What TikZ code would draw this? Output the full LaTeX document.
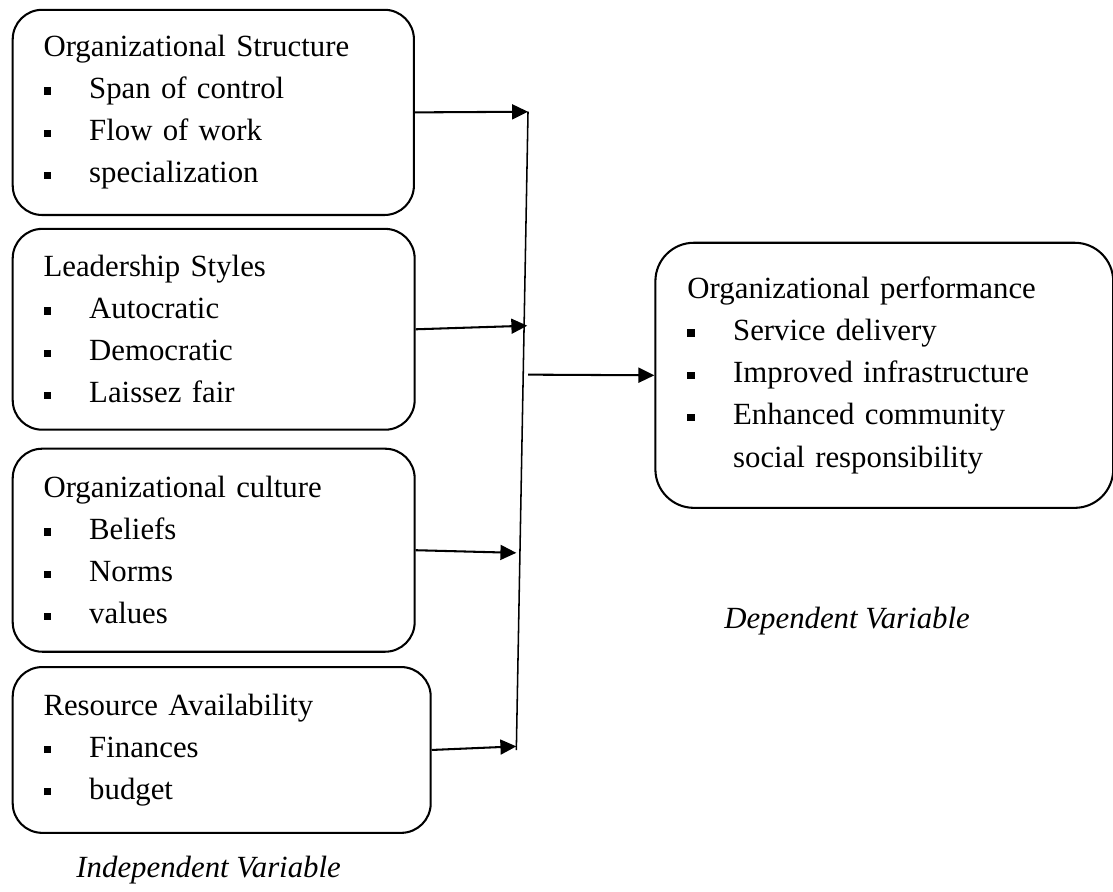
\documentclass[tikz,border=0pt]{standalone}
\usepackage{fontspec}
\setmainfont{Liberation Serif}
\usetikzlibrary{arrows.meta}

\newcommand{\itm}{\makebox[17.8pt][l]{\rule[1.6pt]{2.8pt}{2.8pt}}}

\begin{document}
\begin{tikzpicture}[
    every node/.style={font=\fontsize{12pt}{16.4pt}\selectfont},
    factor/.style={draw, line width=0.8pt, rounded corners=11.5pt, anchor=north west,
        align=left, inner xsep=12pt, text width=#1},
    arr/.style={line width=0.8pt, -{Triangle[length=6.2pt, width=5.8pt]}},
    varlabel/.style={anchor=base west, inner sep=0pt,
        font=\fontsize{12pt}{16.4pt}\selectfont\itshape}]
    \useasboundingbox (0, 0) rectangle (15.24, 12.21);

    \node[factor=4.65cm, minimum height=2.81cm] (struct) at (0.16, 12.09)
        {Organizational Structure\\ \itm Span of control\\ \itm Flow of work\\ \itm specialization};
    \node[factor=4.66cm, minimum height=2.75cm] (lead) at (0.16, 9.09)
        {Leadership Styles\\ \itm Autocratic\\ \itm Democratic\\ \itm Laissez fair};
    \node[factor=4.66cm, minimum height=2.78cm] (culture) at (0.16, 6.08)
        {Organizational culture\\ \itm Beliefs\\ \itm Norms\\ \itm values};
    \node[factor=4.88cm, minimum height=2.27cm] (resource) at (0.16, 3.09)
        {Resource Availability\\ \itm Finances\\ \itm budget};
    \node[factor=5.39cm, inner xsep=12.5pt, rounded corners=15pt, minimum height=3.63cm] (perf) at (8.96, 8.90)
        {Organizational performance\\ \itm Service delivery\\ \itm Improved infrastructure\\
         \itm Enhanced community\\ \hspace*{17.8pt}social responsibility};

    \coordinate (j1) at (7.23, 10.68);
    \coordinate (j2) at (7.22, 7.75);
    \coordinate (j3) at (7.07, 4.64);
    \coordinate (j4) at (7.07, 1.99);
    \coordinate (jb) at (7.07, 1.94);
    \coordinate (jm) at (7.23, 7.08);

    \draw[line width=0.6pt] (j1) -- (jb);
    \draw[arr] (struct.east) -- (j1);
    \draw[arr] (lead.east) -- (j2);
    \draw[arr] (culture.east) -- (j3);
    \draw[arr] (resource.east) -- (j4);
    \draw[arr] (jm) -- (perf.west);

    \node[varlabel] (indep) at (1.04, 0.19) {Independent Variable};
    \node[varlabel] (dep) at (9.91, 3.61) {Dependent Variable};
\end{tikzpicture}
\end{document}
